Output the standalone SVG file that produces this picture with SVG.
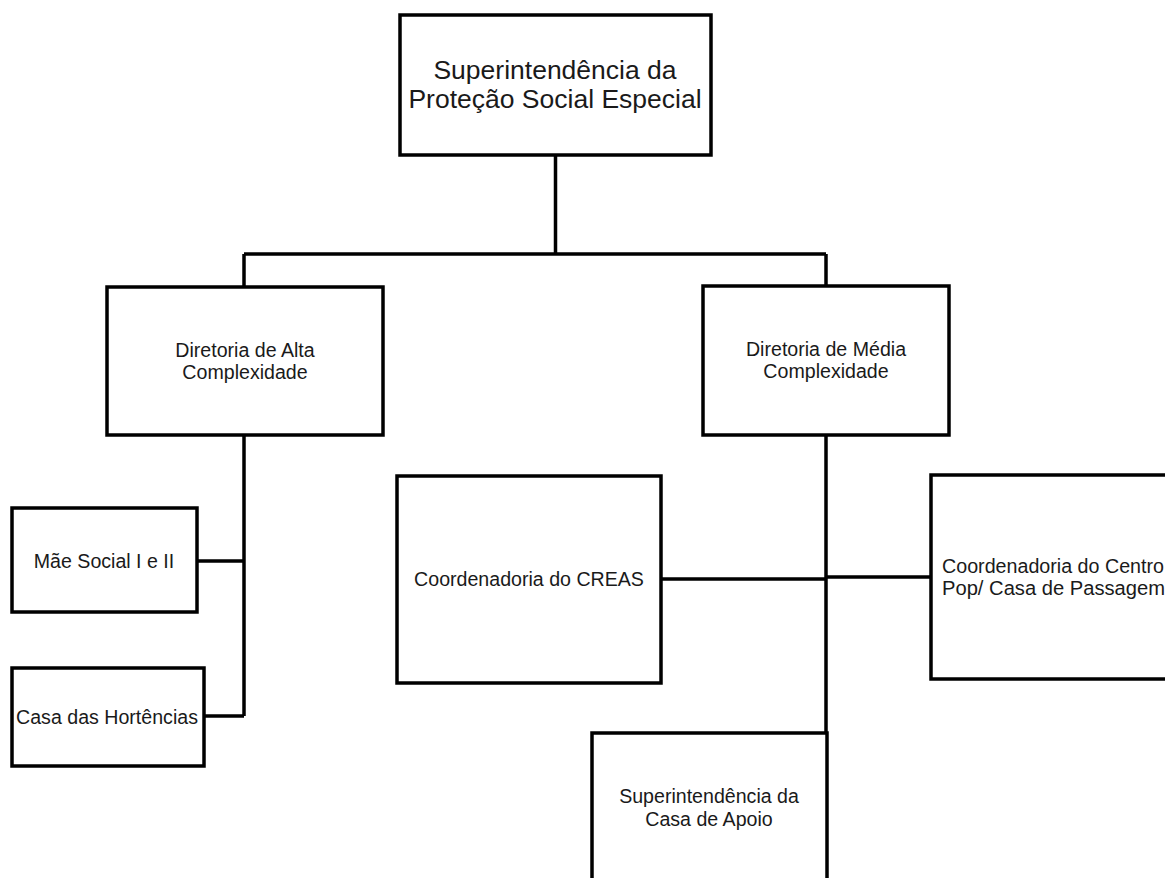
<svg xmlns="http://www.w3.org/2000/svg" width="1165" height="878" viewBox="0 0 1165 878">
<style>
.box{fill:#fff;stroke:#000;stroke-width:3.5;}
.ln{fill:none;stroke:#000;stroke-width:3.5;}
.t{font-family:"Liberation Sans",Arial,sans-serif;font-size:19.6px;fill:#1a1a1a;text-anchor:middle;}
.big{font-size:26.5px;}
</style>
<rect width="1165" height="878" fill="#fff"/>
<g id="connectors">
<path class="ln" d="M555.5 155 V254 M244 254 H826 M244 254 V287 M826 254 V286"/>
<path class="ln" d="M244 435 V716 M197 561 H244 M204 716 H244"/>
<path class="ln" d="M826 435 V878 M661 579 H826 M826 577 H931"/>
</g>
<g id="n-top">
<rect class="box" x="400" y="15" width="311" height="140"/>
<text class="t big" x="555" y="79">Superintendência da</text>
<text class="t big" x="555" y="108">Proteção Social Especial</text>
</g>
<g id="n-alta">
<rect class="box" x="107" y="287" width="276" height="148"/>
<text class="t" x="245" y="357">Diretoria de Alta</text>
<text class="t" x="245" y="379">Complexidade</text>
</g>
<g id="n-media">
<rect class="box" x="703" y="286" width="246" height="149"/>
<text class="t" x="826" y="356">Diretoria de Média</text>
<text class="t" x="826" y="378">Complexidade</text>
</g>
<g id="n-mae">
<rect class="box" x="12" y="508" width="185" height="104"/>
<text class="t" x="104" y="568">Mãe Social I e II</text>
</g>
<g id="n-casa">
<rect class="box" x="12" y="668" width="192" height="98"/>
<text class="t" x="107" y="724">Casa das Hortências</text>
</g>
<g id="n-creas">
<rect class="box" x="397" y="476" width="264" height="207"/>
<text class="t" x="529" y="586">Coordenadoria do CREAS</text>
</g>
<g id="n-centro">
<rect class="box" x="931" y="475" width="260" height="204"/>
<text class="t" x="942" y="573" style="text-anchor:start" textLength="222" lengthAdjust="spacingAndGlyphs">Coordenadoria do Centro</text>
<text class="t" x="942" y="595" style="text-anchor:start" textLength="223" lengthAdjust="spacingAndGlyphs">Pop/ Casa de Passagem</text>
</g>
<g id="n-apoio">
<rect class="box" x="592" y="733" width="235" height="170"/>
<text class="t" x="709" y="803">Superintendência da</text>
<text class="t" x="709" y="826">Casa de Apoio</text>
</g>
</svg>
